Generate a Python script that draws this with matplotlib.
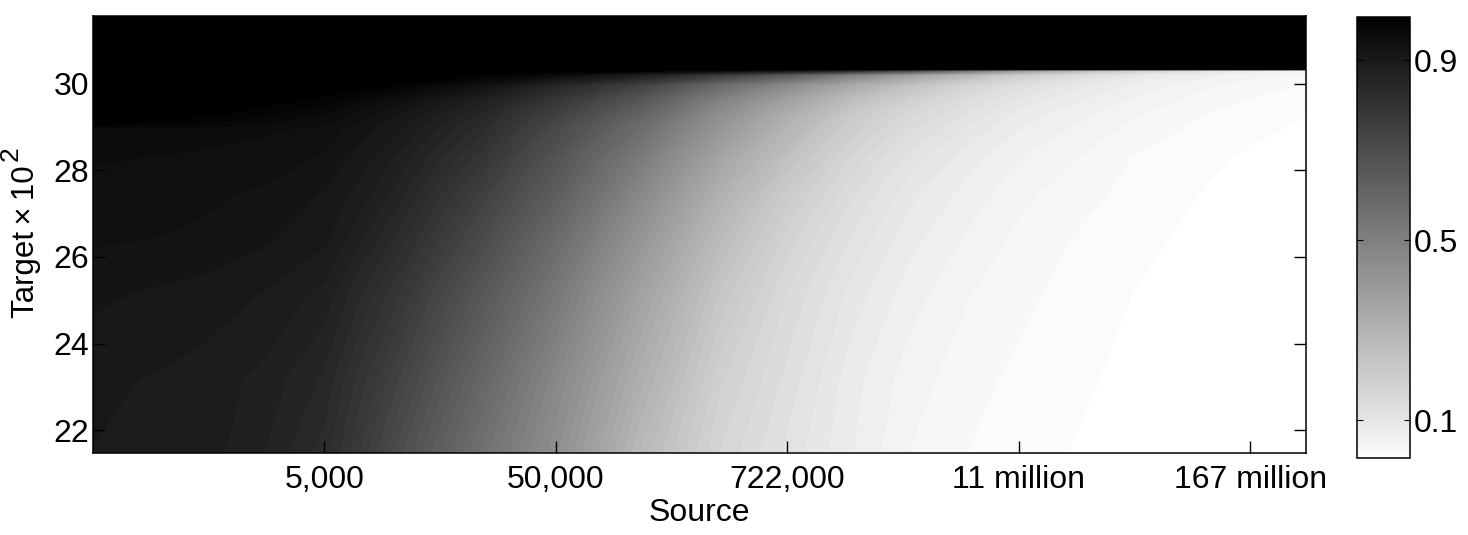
import numpy as np
import matplotlib
matplotlib.use("Agg")
import matplotlib.pyplot as plt

plt.rcParams["font.family"] = ["Liberation Sans", "DejaVu Sans"]

# Source axis is evenly spaced by tick index
tick_labels = ["5,000", "50,000", "722,000", "11 million", "167 million"]
tick_pos = [1, 2, 3, 4, 5]
source_pos = [0, 0.46, 0.74, 1, 1.15, 1.33, 1.67, 2, 2.36, 2.71, 3, 3.27, 3.52, 3.78, 4, 4.21, 4.49, 4.78, 5, 5.24]
target = [21.47, 23.16, 25.17, 26.46, 27.48, 28.31, 28.94, 29.08, 29.28, 29.63, 29.98, 30.21, 30.31, 30.34, 31.57]

row_a = [.89, .885, .86, .82, .765, .69, .56, .44, .28, .17, .12, .08, .047, .031, .022, .0156, .008, .004, .002, 0]
row_b = [.895, .885, .87, .84, .79, .73, .60, .47, .32, .19, .135, .085, .055, .037, .027, .019, .012, .006, .003, .001]
row_c = [.91, .90, .89, .87, .83, .78, .66, .53, .37, .23, .155, .105, .07, .048, .036, .026, .0156, .008, .004, .002]
row_d = [.925, .92, .91, .895, .865, .82, .71, .58, .42, .27, .18, .125, .085, .06, .043, .032, .021, .011, .006, .003]
row_e = [.93, .925, .92, .905, .885, .85, .75, .63, .47, .31, .21, .145, .10, .072, .052, .04, .026, .0156, .009, .005]
row_f = [.94, .935, .93, .92, .90, .87, .79, .67, .52, .36, .25, .17, .12, .085, .063, .05, .031, .021, .013, .008]
row_g = [.945, .945, .94, .93, .915, .89, .82, .71, .57, .41, .29, .20, .145, .105, .078, .062, .042, .027, .019, .013]
row_h = [.99, .97, .955, .94, .92, .895, .83, .72, .58, .42, .30, .21, .15, .11, .082, .065, .045, .029, .02, .014]
row_i = [1, .99, .97, .95, .93, .905, .84, .74, .61, .44, .32, .22, .16, .12, .088, .07, .049, .032, .023, .016]
row_j = [1, 1, .995, .98, .96, .93, .87, .78, .66, .49, .37, .26, .19, .14, .105, .083, .06, .04, .03, .022]
row_k = [1, 1, 1, 1, .995, .985, .93, .85, .74, .58, .46, .34, .25, .18, .135, .105, .075, .052, .04, .03]
row_l = [1, 1, 1, 1, 1, 1, .985, .95, .88, .76, .64, .50, .38, .28, .20, .155, .10, .07, .05, .04]
row_m = [1, 1, 1, 1, 1, 1, 1, 1, .99, .96, .92, .84, .72, .55, .40, .30, .20, .13, .09, .06]
row_n = [1] * 20
row_top = [1] * 20

values = np.array([row_a, row_b, row_c, row_d, row_e, row_f, row_g, row_h,
                   row_i, row_j, row_k, row_l, row_m, row_n, row_top])

fig = plt.figure(figsize=(14.68, 5.35), dpi=100)
ax = fig.add_axes([93 / 1468, 1 - 453 / 535, 1213 / 1468, 437 / 535])
levels = np.linspace(0, 1.0001, 65)
cs = ax.contourf(source_pos, target, values, levels=levels, cmap="gray_r", vmin=0.0078, vmax=0.9922)

ax.set_xlim(0, 5.24)
ax.set_ylim(21.47, 31.57)
ax.set_xticks(tick_pos)
ax.set_xticklabels(tick_labels)
ax.set_yticks([22, 24, 26, 28, 30])
ax.tick_params(axis="both", direction="in", length=8.5, width=1.0, labelsize=23, right=True, top=False)
ax.tick_params(axis="x", pad=8.5)
ax.tick_params(axis="y", pad=3)
ax.set_xlabel("Source", fontsize=23, labelpad=2)
for s in ax.spines.values():
    s.set_linewidth(1.1)

# y label with its raised exponent
fig.text(26 / 1468, 1 - 242 / 535, "Target\u2009\u00d7\u200910", fontsize=22.5, rotation=90, ha="center", va="center")
fig.text(11 / 1468, 1 - 154 / 535, "2", fontsize=19, rotation=90, ha="center", va="center")

# colorbar
cax = fig.add_axes([1357 / 1468, 1 - 458 / 535, 53 / 1468, 441 / 535])
sm = plt.cm.ScalarMappable(norm=plt.Normalize(0, 1), cmap="gray_r")
cb = fig.colorbar(sm, cax=cax, ticks=[0.1, 0.5, 0.9])
cax.set_ylim(0.0156, 0.9956)
cb.ax.set_yticklabels(["0.1", "0.5", "0.9"])
cb.ax.tick_params(direction="in", length=4, width=0.8, labelsize=23, pad=3, left=True, right=True)
cb.outline.set_linewidth(1.1)

plt.savefig("out.png", dpi=100)
plt.close()
